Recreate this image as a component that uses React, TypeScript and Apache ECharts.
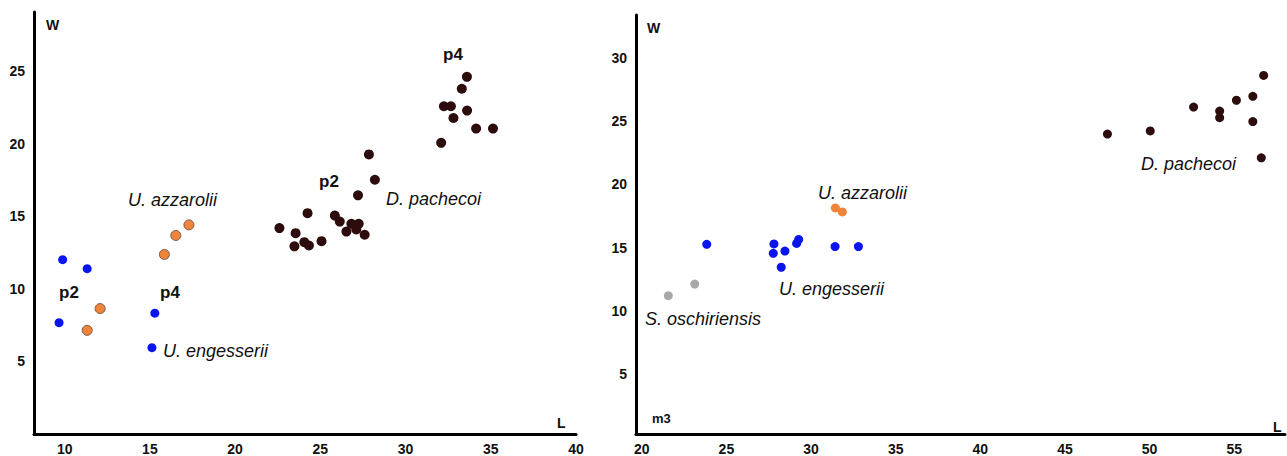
import React, { useEffect, useRef } from "react";
import * as echarts from "echarts";

// ---- Data (L, W) ----
const leftEngesserii: [number, number][] = [
  [9.88, 12.02], [11.32, 11.4], [9.67, 7.68], [15.29, 8.33], [15.12, 5.95],
];
const leftAzzarolii: [number, number][] = [
  [12.08, 8.65], [11.32, 7.15], [15.85, 12.38], [16.52, 13.69], [17.29, 14.42],
];
const leftPachecoi: [number, number][] = [
  [33.6, 24.63], [33.3, 23.81], [32.25, 22.6], [32.66, 22.6], [33.61, 22.3],
  [32.81, 21.79], [34.14, 21.06], [35.13, 21.06], [32.09, 20.08],
  [27.85, 19.28], [28.2, 17.53], [27.21, 16.46], [22.6, 14.2], [24.25, 15.23],
  [23.55, 13.85], [23.48, 12.94], [24.06, 13.23], [24.33, 13.0], [25.07, 13.3],
  [25.85, 15.06], [26.14, 14.65], [26.53, 13.96], [26.82, 14.49], [27.11, 14.1],
  [27.25, 14.49], [27.6, 13.74],
];
const rightOschiriensis: [number, number][] = [[21.57, 11.22], [23.13, 12.13]];
const rightEngesserii: [number, number][] = [
  [23.84, 15.27], [27.81, 15.3], [27.77, 14.56], [28.46, 14.74], [28.24, 13.46],
  [29.15, 15.34], [29.27, 15.66], [31.42, 15.09], [32.8, 15.09],
];
const rightAzzarolii: [number, number][] = [[31.44, 18.14], [31.85, 17.83]];
const rightPachecoi: [number, number][] = [
  [47.51, 23.97], [50.04, 24.22], [52.6, 26.1], [54.14, 25.79], [54.14, 25.27],
  [55.13, 26.64], [56.1, 26.95], [56.74, 28.6], [56.1, 24.96], [56.6, 22.1],
];

const leftXTicks = [10, 15, 20, 25, 30, 35, 40];
const leftYTicks = [5, 10, 15, 20, 25];
const rightXTicks = [20, 25, 30, 35, 40, 45, 50, 55];
const rightYTicks = [5, 10, 15, 20, 25, 30];

const FONT = "'Liberation Sans', Arial, sans-serif";
const BLUE = "#0a14ee";
const ORANGE = "#f0843a";
const DARK = "#2c0c0c";
const GREY = "#a8a8a8";

function App() {
  const ref = useRef<HTMLDivElement>(null);
  useEffect(() => {
    document.body.style.margin = "0";
    if (!ref.current) return;
    const chart = echarts.init(ref.current, undefined, { renderer: "svg" });

    const axisLine = { show: true, onZero: false, lineStyle: { color: "#000", width: 3 } };
    const labelStyle = { color: "#111", fontWeight: "bold" as const, fontSize: 14, fontFamily: FONT };

    const xAxisCommon = (min: number, max: number, ticks: number[], gridIndex: number) => ({
      type: "value" as const,
      gridIndex,
      min,
      max,
      axisLine,
      axisTick: { show: false },
      splitLine: { show: false },
      axisLabel: { ...labelStyle, margin: 8, customValues: ticks, showMinLabel: true, showMaxLabel: true },
    });
    const yAxisCommon = (min: number, max: number, ticks: number[], gridIndex: number) => ({
      type: "value" as const,
      gridIndex,
      min,
      max,
      axisLine,
      axisTick: { show: false },
      splitLine: { show: false },
      axisLabel: { ...labelStyle, margin: 9, customValues: ticks },
    });

    const sc = (
      name: string,
      data: [number, number][],
      color: string,
      idx: number,
      size: number,
      border?: string
    ) => ({
      type: "scatter" as const,
      name,
      xAxisIndex: idx,
      yAxisIndex: idx,
      data,
      symbolSize: size,
      itemStyle: {
        color,
        opacity: 1,
        borderColor: border || color,
        borderWidth: border ? 1 : 0,
      },
    });

    const txt = (
      text: string,
      x: number,
      y: number,
      kind: "italic" | "bold",
      size: number
    ) => ({
      type: "text" as const,
      x,
      y,
      style: {
        text,
        fill: "#111",
        font: `${kind === "italic" ? "italic " : "bold "}${size}px ${FONT}`,
        textVerticalAlign: "middle",
        verticalAlign: "middle",
      },
    });

    chart.setOption({
      animation: false,
      backgroundColor: "#fff",
      grid: [
        { left: 34, top: 12, width: 542, height: 424 },
        { left: 636, top: 15, width: 649, height: 422 },
      ],
      xAxis: [
        xAxisCommon(8.2, 40, leftXTicks, 0),
        xAxisCommon(19.66, 58.0, rightXTicks, 1),
      ],
      yAxis: [
        yAxisCommon(0, 29.1, leftYTicks, 0),
        yAxisCommon(0.3, 33.37, rightYTicks, 1),
      ],
      series: [
        sc("U. azzarolii", leftAzzarolii, ORANGE, 0, 10, "#7a5a46"),
        sc("U. engesserii", leftEngesserii, BLUE, 0, 9),
        sc("D. pachecoi", leftPachecoi, DARK, 0, 10),
        sc("S. oschiriensis", rightOschiriensis, GREY, 1, 9),
        sc("U. engesserii", rightEngesserii, BLUE, 1, 9),
        sc("U. azzarolii", rightAzzarolii, ORANGE, 1, 9),
        sc("D. pachecoi", rightPachecoi, DARK, 1, 9),
      ],
      graphic: [
        txt("W", 46, 25, "bold", 14),
        txt("L", 557, 423, "bold", 14),
        txt("U. azzarolii", 128, 200, "italic", 18),
        txt("p2", 59, 292, "bold", 17),
        txt("p4", 160, 292, "bold", 17),
        txt("U. engesserii", 163, 351, "italic", 18),
        txt("p2", 319, 181, "bold", 17),
        txt("D. pachecoi", 386, 199, "italic", 18),
        txt("p4", 443, 54, "bold", 17),
        txt("W", 647, 28, "bold", 14),
        txt("L", 1273, 427, "bold", 14),
        txt("m3", 652, 418, "bold", 13),
        txt("U. azzarolii", 818, 193, "italic", 18),
        txt("U. engesserii", 779, 289, "italic", 18),
        txt("S. oschiriensis", 645, 319, "italic", 18),
        txt("D. pachecoi", 1141, 164, "italic", 18),
      ],
    });
    return () => chart.dispose();
  }, []);
  return <div ref={ref} style={{ width: 1287, height: 456 }} />;
}

export default App;
